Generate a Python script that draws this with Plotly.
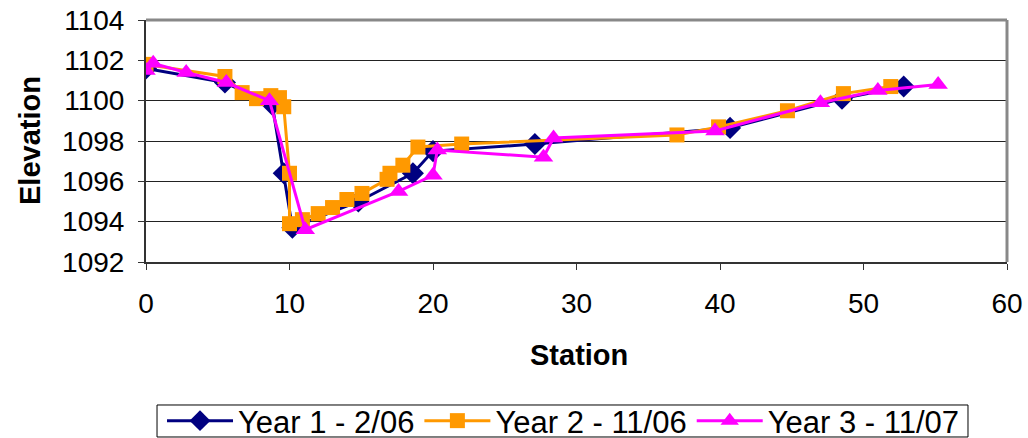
import plotly.graph_objects as go

# Year 1 - 2/06
y1_station = [0, 5.5, 8.8, 9.6, 10.2, 14.8, 18.6, 20.0, 27.1, 40.7, 48.5, 52.8]
y1_elev = [1101.6, 1100.9, 1099.8, 1096.4, 1093.7, 1095.0, 1096.4, 1097.5, 1097.85, 1098.65, 1100.1, 1100.7]

# Year 2 - 11/06
y2_station = [0, 5.5, 6.7, 7.7, 8.7, 9.3, 9.6, 10.0, 10.0, 10.9, 12.0, 13.0, 14.0, 15.05,
              16.8, 17.0, 17.9, 18.95, 22.0, 37.0, 39.9, 44.7, 48.6, 51.9]
y2_elev = [1101.8, 1101.2, 1100.4, 1100.1, 1100.25, 1100.15, 1099.7, 1096.4, 1093.9, 1094.1,
           1094.4, 1094.7, 1095.1, 1095.4, 1096.1, 1096.4, 1096.8, 1097.7, 1097.85, 1098.3,
           1098.7, 1099.5, 1100.35, 1100.7]

# Year 3 - 11/07
y3_station = [0, 0.5, 2.8, 5.6, 8.6, 11.1, 17.6, 20.0, 20.3, 27.7, 28.4, 39.65, 47.0, 51.0, 55.2]
y3_elev = [1101.5, 1101.85, 1101.4, 1100.9, 1100.0, 1093.6, 1095.5, 1096.3, 1097.55, 1097.2,
           1098.15, 1098.5, 1099.9, 1100.5, 1100.8]

series_names = ["Year 1 - 2/06", "Year 2 - 11/06", "Year 3 - 11/07"]
x_title = "Station"
y_title = "Elevation"

FONT = "Liberation Sans, Arial, sans-serif"

fig = go.Figure()
fig.add_trace(go.Scatter(x=y1_station, y=y1_elev, mode="lines+markers", name=series_names[0],
                         line=dict(color="#000080", width=3),
                         marker=dict(symbol="diamond", size=17, color="#000080")))
fig.add_trace(go.Scatter(x=y2_station, y=y2_elev, mode="lines+markers", name=series_names[1],
                         line=dict(color="#FF9900", width=3),
                         marker=dict(symbol="square", size=15, color="#FF9900")))
fig.add_trace(go.Scatter(x=y3_station, y=y3_elev, mode="lines+markers", name=series_names[2],
                         line=dict(color="#FF00FF", width=3),
                         marker=dict(symbol="triangle-up", size=17, color="#FF00FF")))

# figure a bit taller than the window so the legend is never clipped; plot area unchanged
fig.update_layout(
    width=1028, height=460,
    margin=dict(l=146, r=21, t=20, b=198, autoexpand=False),
    paper_bgcolor="white", plot_bgcolor="white",
    font=dict(family=FONT, size=28, color="black"),
    showlegend=True,
    legend=dict(orientation="h", x=0.0186, xanchor="left", y=-0.657, yanchor="middle",
                borderwidth=0, bgcolor="rgba(0,0,0,0)", font=dict(size=31), itemwidth=66,
                tracegroupgap=0),
    shapes=[dict(type="line", xref="paper", yref="paper", x0=0, x1=1, y0=1, y1=1,
                 line=dict(color="#888888", width=3)),
            dict(type="line", xref="paper", yref="paper", x0=1, x1=1, y0=0, y1=1,
                 line=dict(color="#888888", width=3)),
            dict(type="rect", xref="paper", yref="paper", x0=0.0128, x1=0.9547,
                 y0=-0.7231, y1=-0.5909, line=dict(color="black", width=1),
                 fillcolor="rgba(0,0,0,0)", layer="below")],
    annotations=[
        dict(text="<b>" + x_title + "</b>", xref="paper", yref="paper", x=0.503, y=-0.384,
             xanchor="center", yanchor="middle", showarrow=False, font=dict(size=29)),
        dict(text="<b>" + y_title + "</b>", xref="paper", yref="paper", x=-0.1347, y=0.5,
             xanchor="center", yanchor="middle", textangle=-90, showarrow=False,
             font=dict(size=29)),
    ],
)
fig.update_xaxes(range=[0, 60], dtick=10, tick0=0, showgrid=False, zeroline=False,
                 automargin=False, ticklabeloverflow="allow",
                 showline=True, linecolor="#333333", linewidth=2,
                 ticks="outside", ticklen=6, tickcolor="#333333",
                 ticklabelstandoff=9)
fig.update_yaxes(range=[1092, 1104], dtick=2, tick0=1092, showgrid=True, gridcolor="#222222",
                 gridwidth=1, zeroline=False, automargin=False, ticklabeloverflow="allow",
                 showline=True, linecolor="#333333", linewidth=2,
                 ticks="outside", ticklen=6, tickcolor="#333333",
                 ticklabelstandoff=8)

# remove the browser's default 8px body margin so the figure fills the window exactly
fig.write_html("out.html", config={"displayModeBar": False},
               post_script="document.body.style.margin='0';document.body.style.overflow='hidden';")
